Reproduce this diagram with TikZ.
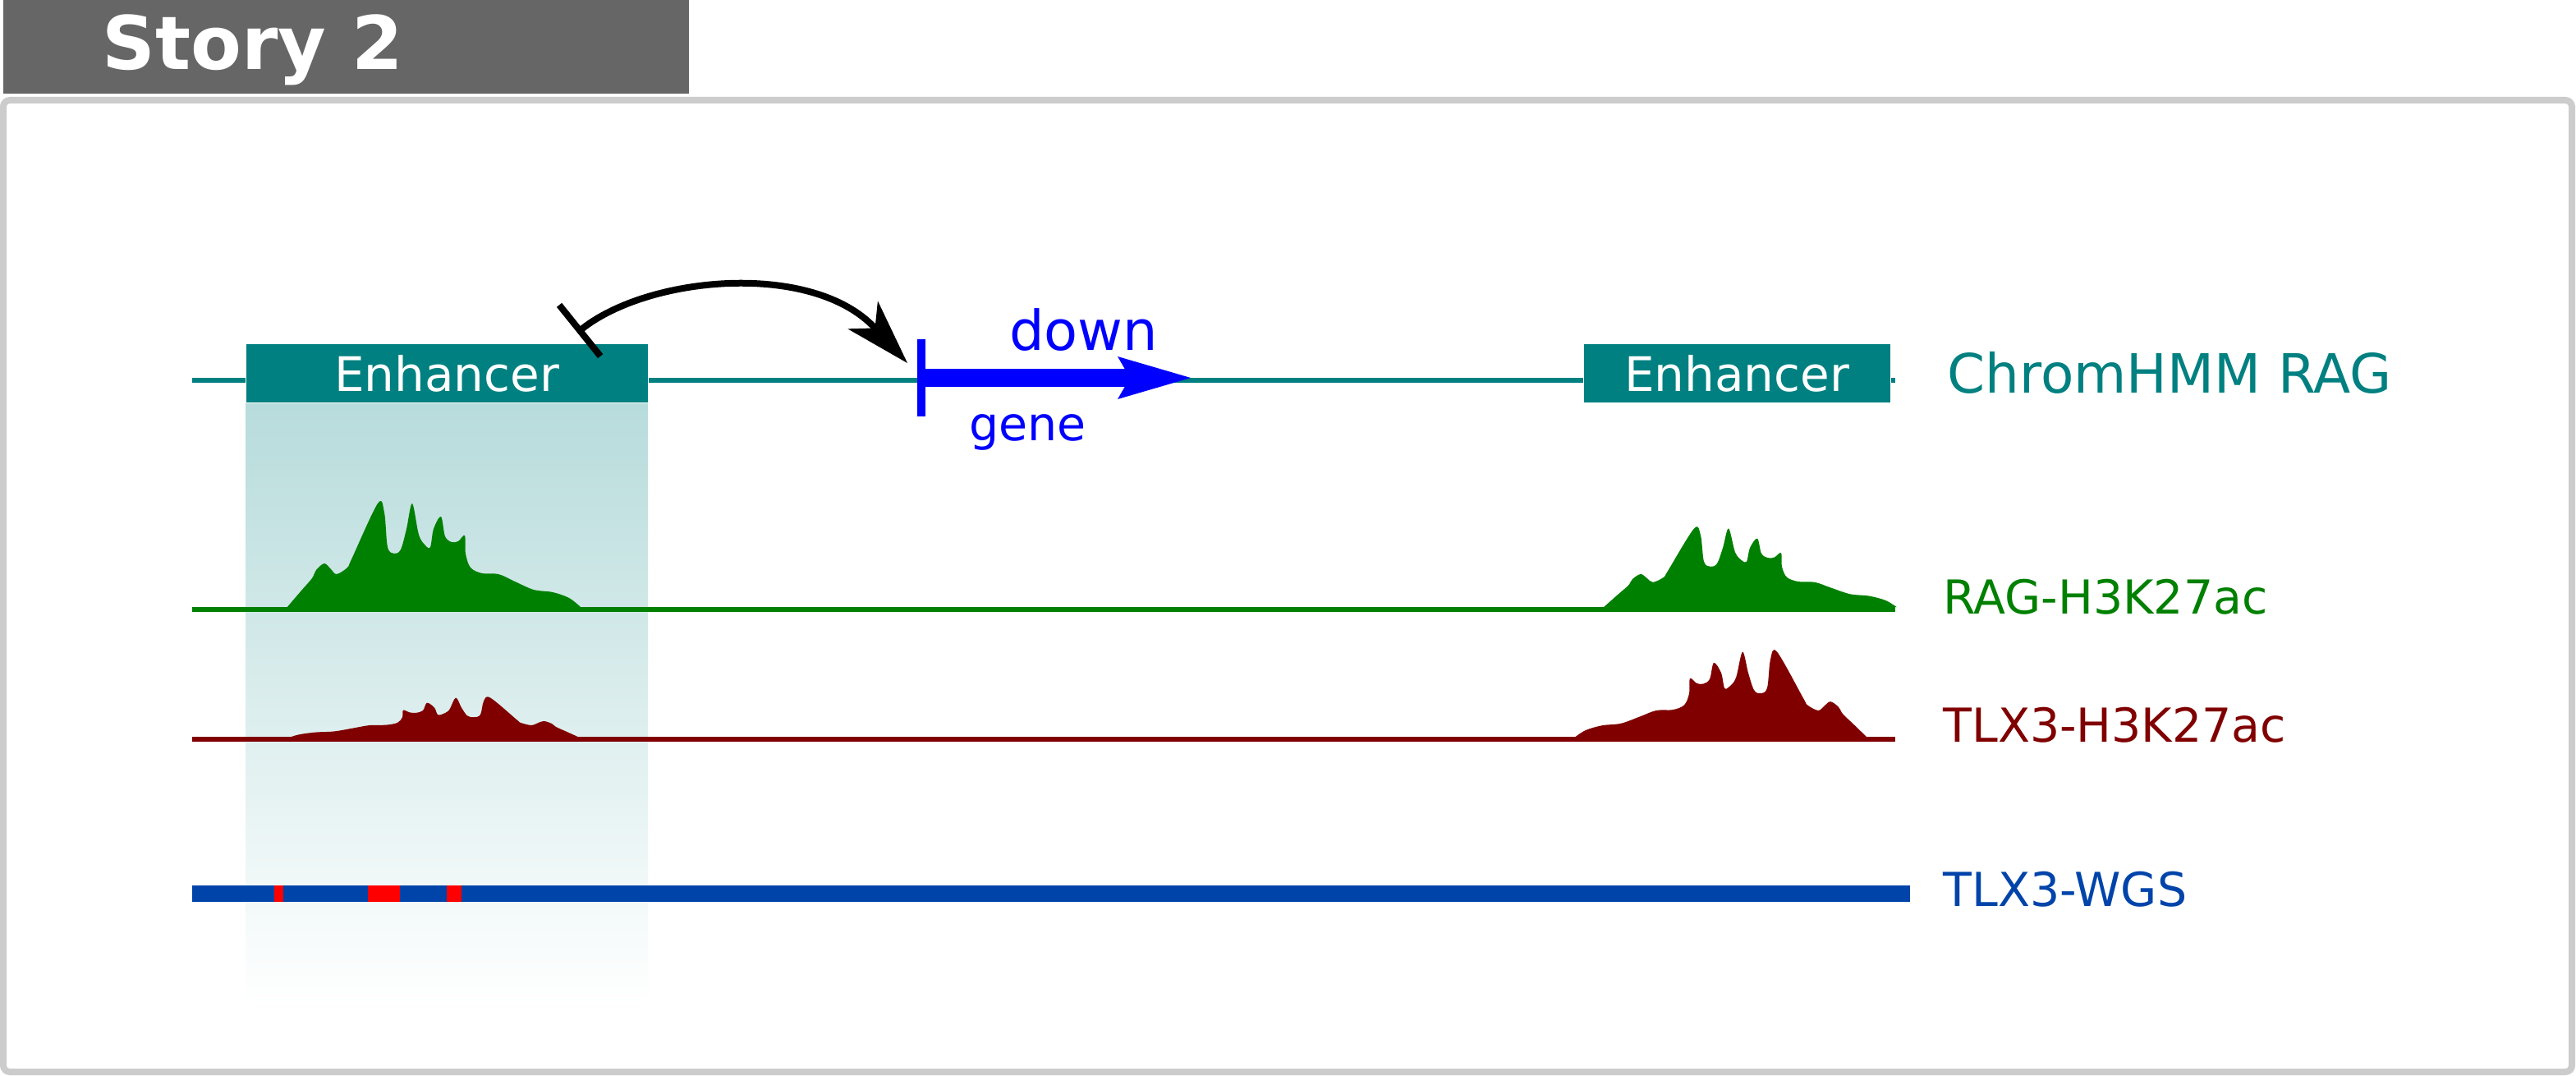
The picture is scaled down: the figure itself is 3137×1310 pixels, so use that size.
\documentclass[tikz,border=0pt]{standalone}
\usepackage{fontspec}
\setmainfont{DejaVu Sans}
\usetikzlibrary{arrows.meta}

\definecolor{hmmteal}{HTML}{008080}
\definecolor{ragc}{HTML}{008000}
\definecolor{tlxc}{HTML}{800000}
\definecolor{wgsc}{HTML}{0044AA}
\definecolor{geneblue}{HTML}{0000FF}
\definecolor{titlegray}{HTML}{666666}
\definecolor{framegray}{HTML}{CCCCCC}

\newcommand{\fsz}[1]{\fontsize{#1pt}{#1pt}\selectfont}
% signal peak, base start at (0,0)
\newcommand{\peakcurve}{plot[smooth,tension=0.55] coordinates {(0,0) (18,-21) (31,-36) (36,-46) (46,-54) (54,-47) (61,-41) (74,-49) (79,-59) (111,-127) (119,-116) (123,-74) (131,-66) (139,-71) (146,-96) (153,-127) (161,-89) (169,-76) (175,-74) (179,-96) (188,-111) (193,-87) (201,-80) (209,-81) (217,-88) (218,-66) (224,-49) (238,-42) (258,-41) (278,-32) (301,-22) (324,-19) (344,-12) (358,-1)}}

\begin{document}
\begin{tikzpicture}[x=0.5pt,y=-0.5pt,
    enhbox/.style={fill=hmmteal,draw=white,line width=0.5pt,text=white,minimum height=35.5pt,inner sep=0pt,font=\fsz{29}},
    tracklabel/.style={anchor=base west,inner sep=0pt,font=\fsz{28.5}}]
    \useasboundingbox (0,0) rectangle (3137,1310);
    \fill[white] (0,0) rectangle (3137,1310);
    %title
    \fill[titlegray] (4,0) rectangle (839,114);
    \node[anchor=base west,inner sep=0pt,text=white,font=\bfseries\fsz{45}] (title) at (124,85) {Story 2};
    %frame
    \draw[framegray,line width=4pt,rounded corners=4pt] (4,122) rectangle (3132,1305);
    %enhancer region
    \shade[top color=hmmteal!28,bottom color=white] (299,490) rectangle (789,1225);

    %ChromHMM track
    \draw[hmmteal,line width=2.75pt] (234,463) -- (2308,463);
    \node[enhbox,minimum width=245pt] (enh1) at (544,454.5) {Enhancer};
    \node[enhbox,minimum width=187pt] (enh2) at (2115,454.5) {Enhancer};
    \node[tracklabel,text=hmmteal,font=\fsz{33}] (hmm) at (2371,479) {ChromHMM RAG};

    %gene
    \coordinate (tss) at (1122,460);
    \coordinate (geneend) at (1450,460);
    \draw[geneblue,line width=5pt] ([yshift=23.5pt]tss) -- ([yshift=-23.5pt]tss);
    \draw[geneblue,line width=10.5pt,-{Stealth[length=44.5pt,width=26pt,inset=7.5pt,line width=0pt]}] (tss) -- (geneend);
    \node[anchor=base west,inner sep=0pt,text=geneblue,font=\fsz{33.5}] (down) at (1229,427) {down};
    \node[anchor=base west,inner sep=0pt,text=geneblue,font=\fsz{28.5}] (gene) at (1180,536) {gene};

    %enhancer to gene
    \coordinate (inhib) at (703,405);
    \coordinate (arcend) at (1105,442);
    \draw[line width=4pt,{Bar[width=40pt]}-{Stealth[length=40pt,width=25pt,inset=11pt,line width=0pt]}] (inhib) .. controls (790,335) and (990,318) .. (arcend);

    %RAG-H3K27ac
    \draw[ragc,line width=3pt] (234,742) -- (2308,742);
    \fill[ragc,shift={(349,740)}] \peakcurve -- cycle;
    \fill[ragc,shift={(1952,740)},yscale=0.76] \peakcurve -- cycle;
    \node[tracklabel,text=ragc] (rag) at (2366,747) {RAG-H3K27ac};

    %TLX3-H3K27ac
    \draw[tlxc,line width=2.75pt] (234,900) -- (2308,900);
    \fill[tlxc,shift={(708,899)},xscale=-1,yscale=0.39] \peakcurve -- cycle;
    \fill[tlxc,shift={(2275,899)},xscale=-1,yscale=0.83] \peakcurve -- cycle;
    \node[tracklabel,text=tlxc] (tlx) at (2366,903) {TLX3-H3K27ac};

    %TLX3-WGS
    \draw[wgsc,line width=10pt] (234,1088) -- (2326,1088);
    \foreach \a/\b in {334/345,448/487,544/562}
        \fill[red] (\a,1078) rectangle (\b,1098);
    \node[tracklabel,text=wgsc] (wgs) at (2366,1103) {TLX3-WGS};
\end{tikzpicture}
\end{document}
